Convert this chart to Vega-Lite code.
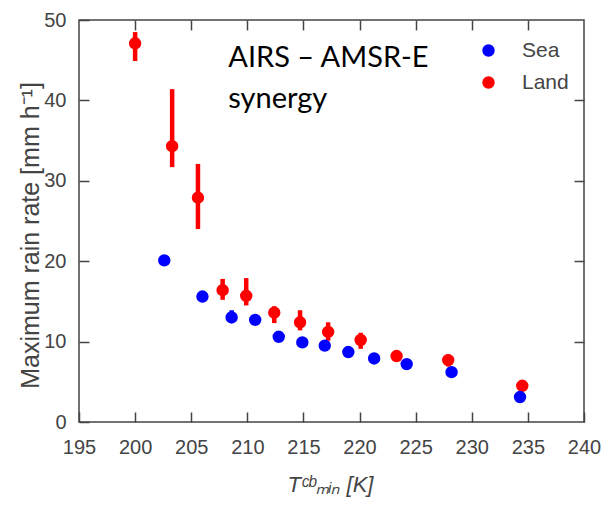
{
  "$schema": "https://vega.github.io/schema/vega-lite/v6.json",
  "width": 505,
  "height": 402,
  "autosize": "none",
  "padding": {"left": 79, "top": 20, "right": 23, "bottom": 83},
  "background": "white",
  "config": {
    "view": {"stroke": "#444", "strokeWidth": 1.5},
    "font": "Liberation Sans",
    "axis": {
      "grid": false,
      "domain": false,
      "ticks": true,
      "tickColor": "#444",
      "tickWidth": 1.5,
      "tickSize": -10,
      "labelFlush": false,
      "labelFont": "Liberation Sans",
      "labelFontSize": 20,
      "labelColor": "#444",
      "titleFont": "Liberation Sans",
      "titleFontSize": 22,
      "titleFontWeight": "normal",
      "titleColor": "#444"
    }
  },
  "datasets": {
    "pts": [
      {"t": 200.0, "r": 47.1, "lo": 44.9, "hi": 48.5, "surface": "Land"},
      {"t": 203.3, "r": 34.3, "lo": 31.7, "hi": 41.4, "surface": "Land"},
      {"t": 205.6, "r": 27.9, "lo": 24.0, "hi": 32.1, "surface": "Land"},
      {"t": 207.8, "r": 16.4, "lo": 15.2, "hi": 17.8, "surface": "Land"},
      {"t": 209.9, "r": 15.7, "lo": 14.5, "hi": 17.9, "surface": "Land"},
      {"t": 212.4, "r": 13.6, "lo": 12.3, "hi": 14.4, "surface": "Land"},
      {"t": 214.7, "r": 12.4, "lo": 11.4, "hi": 13.9, "surface": "Land"},
      {"t": 217.2, "r": 11.2, "lo": 10.1, "hi": 12.4, "surface": "Land"},
      {"t": 220.1, "r": 10.2, "lo": 9.1, "hi": 11.1, "surface": "Land"},
      {"t": 223.3, "r": 8.2, "lo": 7.6, "hi": 8.8, "surface": "Land"},
      {"t": 227.9, "r": 7.7, "lo": 6.9, "hi": 8.4, "surface": "Land"},
      {"t": 234.5, "r": 4.5, "lo": 4.1, "hi": 4.9, "surface": "Land"},
      {"t": 202.6, "r": 20.1, "lo": 19.9, "hi": 20.3, "surface": "Sea"},
      {"t": 206.0, "r": 15.6, "lo": 15.2, "hi": 16.0, "surface": "Sea"},
      {"t": 208.6, "r": 13.0, "lo": 12.6, "hi": 13.9, "surface": "Sea"},
      {"t": 210.7, "r": 12.7, "lo": 12.4, "hi": 13.0, "surface": "Sea"},
      {"t": 212.8, "r": 10.6, "lo": 10.3, "hi": 10.9, "surface": "Sea"},
      {"t": 214.9, "r": 9.9, "lo": 9.6, "hi": 10.2, "surface": "Sea"},
      {"t": 216.9, "r": 9.5, "lo": 9.2, "hi": 9.8, "surface": "Sea"},
      {"t": 219.0, "r": 8.7, "lo": 8.4, "hi": 9.0, "surface": "Sea"},
      {"t": 221.3, "r": 7.9, "lo": 7.6, "hi": 8.2, "surface": "Sea"},
      {"t": 224.2, "r": 7.2, "lo": 6.9, "hi": 7.5, "surface": "Sea"},
      {"t": 228.2, "r": 6.2, "lo": 5.9, "hi": 6.5, "surface": "Sea"},
      {"t": 234.3, "r": 3.1, "lo": 2.8, "hi": 3.4, "surface": "Sea"}
    ],
    "note": [
      {"label": "AIRS – AMSR-E\nsynergy"}
    ]
  },
  "resolve": {"axis": {"x": "independent", "y": "independent"}},
  "layer": [
    {
      "data": {"name": "pts"},
      "mark": {"type": "rule", "strokeWidth": 4.5},
      "encoding": {
        "x": {"field": "t", "type": "quantitative", "scale": {"domain": [195, 240], "nice": false, "zero": false},
              "axis": {"orient": "bottom", "values": [195,200,205,210,215,220,225,230,235,240], "labelPadding": 25, "title": "Tᶜᵇₘᵢₙ [K]", "titleFontStyle": "italic", "titleX": 251, "titleY": 69, "titleAlign": "center", "titleBaseline": "alphabetic"}},
        "y": {"field": "lo", "type": "quantitative", "scale": {"domain": [0, 50], "nice": false},
              "axis": {"orient": "left", "values": [0,10,20,30,40,50], "labelPadding": 23, "title": "Maximum rain rate [mm h⁻¹]", "titleFontSize": 25, "titleX": -41, "titleY": 215, "titleAngle": -90, "titleAlign": "center", "titleBaseline": "alphabetic"}},
        "y2": {"field": "hi"},
        "color": {"field": "surface", "type": "nominal", "scale": {"domain": ["Sea", "Land"], "range": ["#0000ff", "#ff0000"]},
                  "legend": {"title": null, "orient": "none", "legendX": 399, "legendY": 20, "symbolType": "circle", "symbolSize": 154, "symbolStrokeWidth": 0, "symbolOpacity": 1, "labelFontSize": 21, "labelColor": "#444", "labelOffset": 23, "rowPadding": 10, "padding": 0}}
      }
    },
    {
      "data": {"name": "pts"},
      "mark": {"type": "circle", "size": 154, "opacity": 1},
      "encoding": {
        "x": {"field": "t", "type": "quantitative", "axis": {"orient": "top", "labels": false, "title": null, "values": [200,205,210,215,220,225,230,235]}},
        "y": {"field": "r", "type": "quantitative", "axis": {"orient": "right", "labels": false, "title": null, "values": [10,20,30,40]}},
        "order": {"field": "surface", "sort": "ascending"},
        "color": {"field": "surface", "type": "nominal"}
      }
    },
    {
      "data": {"name": "note"},
      "mark": {"type": "text", "align": "left", "baseline": "alphabetic", "font": "Lato", "fontSize": 29, "color": "black", "lineHeight": 41, "lineBreak": "\n"},
      "encoding": {
        "x": {"datum": 208.3, "type": "quantitative", "axis": null},
        "y": {"datum": 44.2, "type": "quantitative", "axis": null},
        "text": {"field": "label", "type": "nominal"}
      }
    }
  ]
}
